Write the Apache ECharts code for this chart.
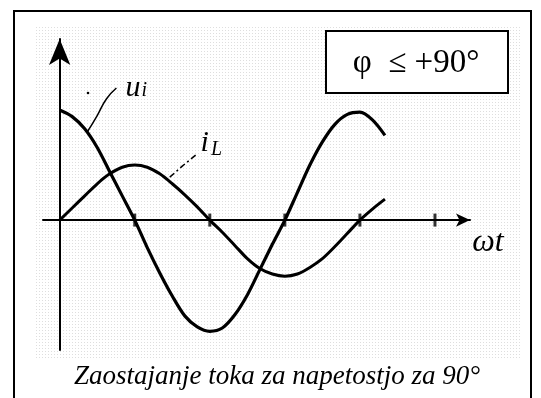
<!DOCTYPE html>
<html>
<head>
<meta charset="utf-8">
<script src="https://cdn.jsdelivr.net/npm/echarts@6/dist/echarts.min.js"></script>
<style>
  html, body { margin: 0; padding: 0; background: #fff; }
  #chart { width: 541px; height: 398px; }
</style>
</head>
<body>
<div id="chart"></div>
<script>
// ωt in degrees, every 15°
const angles = [0, 15, 30, 45, 60, 75, 90, 105, 120, 135, 150, 165, 180, 195, 210, 225, 240, 255, 270, 285, 300, 315, 330, 345, 360, 375, 390];

// Voltage across the coil u_i
const uValues = [1.0, 0.94, 0.83, 0.66, 0.44, 0.22, 0, -0.25, -0.48, -0.69, -0.87, -0.97, -1.01, -0.98, -0.86, -0.68, -0.45, -0.22, 0, 0.25, 0.5, 0.71, 0.87, 0.96, 0.98, 0.91, 0.77];

// Coil current i_L
const iValues = [0, 0.11, 0.22, 0.33, 0.42, 0.48, 0.5, 0.48, 0.42, 0.33, 0.23, 0.12, 0, -0.11, -0.23, -0.35, -0.44, -0.49, -0.51, -0.49, -0.43, -0.35, -0.24, -0.12, 0, 0.1, 0.19];

// Tick marks along the ωt axis
const tickAngles = [90, 180, 270, 360, 450];

// Leader lines from the curve labels to their curves
const uLeader = [[33, 0.8], [45, 0.95], [56, 1.1], [68, 1.2]];
const iLeader = [[132, 0.39], [147, 0.49], [163, 0.59]];

const caption = 'Zaostajanje toka za napetostjo za 90°';
const phaseNote = 'φ  ≤ +90°';

const zip = (xs, ys) => xs.map((x, k) => [x, ys[k]]);

const chart = echarts.init(document.getElementById('chart'), null, { renderer: 'canvas' });

const serif = '"Liberation Serif", "DejaVu Serif", serif';

// faint halftone texture behind the plot
const tex = document.createElement('canvas');
tex.width = 3; tex.height = 3;
const tctx = tex.getContext('2d');
tctx.fillStyle = 'rgba(0,0,0,0.13)';
tctx.fillRect(0, 0, 1, 1);

chart.setOption({
  animation: false,
  backgroundColor: '#fff',
  grid: { left: 43, right: 71, top: 39, bottom: 48 },
  title: {
    text: caption,
    left: 69,
    top: 358,
    textStyle: { fontFamily: serif, fontStyle: 'italic', fontWeight: 'normal', fontSize: 27, color: '#000' }
  },
  xAxis: {
    type: 'value',
    min: -20,
    max: 492,
    axisLine: { onZero: true, symbol: ['none', 'arrow'], symbolSize: [10, 14], lineStyle: { color: '#000', width: 2 } },
    axisTick: { show: false },
    axisLabel: { show: false },
    splitLine: { show: false }
  },
  yAxis: {
    type: 'value',
    min: -1.18,
    max: 1.645,
    axisLine: { onZero: true, symbol: ['none', 'arrow'], symbolSize: [16, 26], lineStyle: { color: '#000', width: 2 } },
    axisTick: { show: false },
    axisLabel: { show: false },
    splitLine: { show: false }
  },
  series: [
    {
      name: 'u_i', type: 'line', smooth: 0.3, showSymbol: false,
      lineStyle: { color: '#000', width: 3.2 },
      data: zip(angles, uValues), z: 3
    },
    {
      name: 'i_L', type: 'line', smooth: 0.3, showSymbol: false,
      lineStyle: { color: '#000', width: 3 },
      data: zip(angles, iValues), z: 3
    },
    {
      name: 'ticks', type: 'scatter', symbol: 'rect', symbolSize: [3, 13],
      itemStyle: { color: '#000' },
      data: tickAngles.map(a => [a, 0]), z: 4
    },
    {
      name: 'uLeader', type: 'line', smooth: true, showSymbol: false,
      lineStyle: { color: '#000', width: 1.5 },
      data: uLeader
    },
    {
      name: 'iLeader', type: 'line', showSymbol: false,
      lineStyle: { color: '#000', width: 1.5, type: [6, 3, 2, 3] },
      data: iLeader
    }
  ]
});

// Frame, phase note, axis name and curve names
const at = (p) => chart.convertToPixel({ gridIndex: 0 }, p);
const uLab = at([79, 1.06]);
const iLab = at([169, 0.55]);
const axisEnd = at([492, 0]);

chart.setOption({
  graphic: [
    {
      type: 'rect', shape: { x: 35, y: 25, width: 485, height: 335 },
      style: { fill: { image: tex, repeat: 'repeat' } }, silent: true, z: -1
    },
    {
      type: 'rect', shape: { x: 14, y: 11, width: 517, height: 400 },
      style: { fill: 'none', stroke: '#000', lineWidth: 2 }, silent: true, z: 10
    },
    {
      type: 'rect', shape: { x: 326, y: 31, width: 182, height: 62 },
      style: { fill: '#fff', stroke: '#000', lineWidth: 2 }, z: 10
    },
    {
      type: 'text', x: 416, y: 63, z: 11,
      style: { text: phaseNote, font: '33px ' + serif, fill: '#000', align: 'center', verticalAlign: 'middle' }
    },
    {
      type: 'text', x: axisEnd[0] + 18, y: axisEnd[1] + 22, z: 11,
      style: { text: 'ωt', font: 'italic 32px ' + serif, fill: '#000', align: 'center', verticalAlign: 'middle' }
    },
    {
      type: 'text', x: uLab[0], y: uLab[1], z: 11,
      style: {
        text: '{m|u}{s|i}', fill: '#000', verticalAlign: 'bottom',
        rich: {
          m: { font: 'italic 30px ' + serif },
          s: { font: 'italic 20px ' + serif, padding: [4, 0, 0, 1] }
        }
      }
    },
    {
      type: 'text', x: iLab[0], y: iLab[1], z: 11,
      style: {
        text: '{m|i}{s|L}', fill: '#000', verticalAlign: 'bottom',
        rich: {
          m: { font: 'italic 30px ' + serif },
          s: { font: 'italic 20px ' + serif, padding: [12, 0, 0, 2] }
        }
      }
    },
    {
      type: 'circle', shape: { cx: 88, cy: 93, r: 1.3 },
      style: { fill: '#000' }, z: 11
    }
  ]
});
</script>
</body>
</html>
